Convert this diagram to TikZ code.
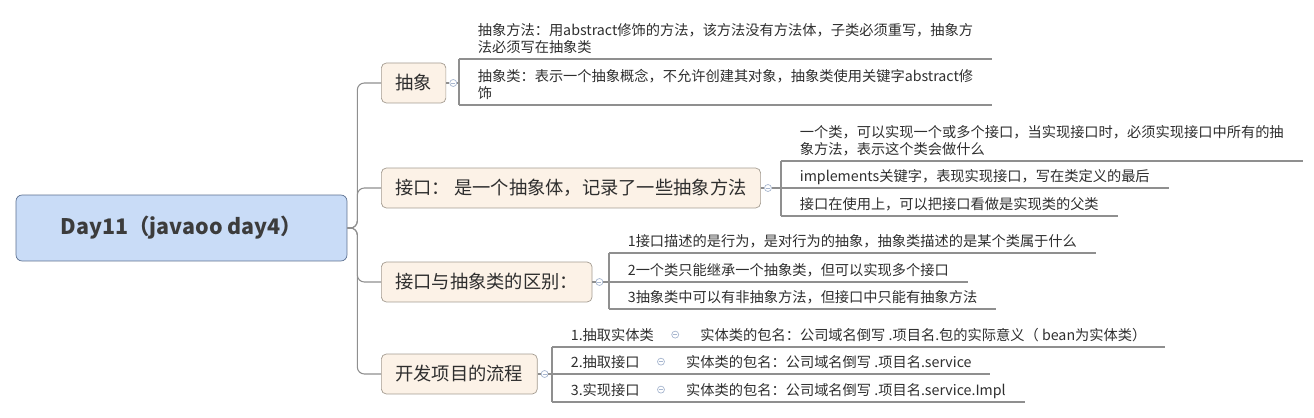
\documentclass[tikz,border=0pt]{standalone}
\usepackage{fontspec}
\setmainfont{Noto Sans CJK SC}
\definecolor{rootfill}{HTML}{C9DCF7}
\definecolor{rootline}{HTML}{5B6F8F}
\definecolor{roottext}{HTML}{3C3C3C}
\definecolor{branchfill}{HTML}{FCF2E7}
\definecolor{branchline}{HTML}{A39B90}
\definecolor{linec}{HTML}{8F8F8F}
\definecolor{foldline}{HTML}{A7B6CF}
\definecolor{txt}{HTML}{2E2E2E}
\tikzset{
	root/.style = {draw=rootline, fill=rootfill, rounded corners=0.12cm, minimum width=6.62cm,
		minimum height=1.32cm, text=roottext, font=\fontsize{12.2}{15}\selectfont\bfseries},
	branch/.style = {draw=branchline, fill=branchfill, rounded corners=0.1cm, anchor=west,
		minimum height=0.8cm, inner xsep=0.28cm, text=txt, font=\fontsize{10.4}{12}\selectfont},
	leaf/.style = {anchor=south west, inner xsep=0.37cm, inner ysep=0.12cm, text depth=0pt,
		align=left, text=txt, font=\fontsize{8.1}{9.7}\selectfont},
	fold/.style = {circle, draw=foldline, fill=white, minimum size=0.14cm, inner sep=0pt,
		path picture={\draw[foldline] ([xshift=-0.04cm]path picture bounding box.center)
			-- ([xshift=0.04cm]path picture bounding box.center);}},
	conn/.style = {draw=linec, line width=0.6pt, rounded corners=0.14cm},
	uline/.style = {draw=linec, line width=0.6pt}
}
\begin{document}
\begin{tikzpicture}[x=0.02cm, y=-0.02cm]
	\useasboundingbox (0,0) rectangle (1314,418);
	% centre topic and main branches
	\node[root] (day) at (181.5,228) {Day11（javaoo day4）};
	\node[branch] (abs) at (381,83) {抽象};
	\node[branch] (itf) at (381,188) {接口： 是一个抽象体，记录了一些抽象方法};
	\node[branch] (diff) at (381,282) {接口与抽象类的区别：};
	\node[branch] (flow) at (381,374) {开发项目的流程};
	\foreach \b in {abs, itf, diff, flow}
		\draw[conn] (day.east) -- ++(10,0) |- (\b.west);
	% fold marks after each branch
	\foreach \b in {abs, itf, diff, flow} {
		\node[fold] (f\b) at ([xshift=0.14cm]\b.east) {};
		\draw[uline] (\b.east) -- (f\b.west);
	}
	% abstract
	\node[leaf] (a1) at (459,59) {抽象方法：用abstract修饰的方法，该方法没有方法体，子类必须重写，抽象方\\法必须写在抽象类};
	\node[leaf] (a2) at (459,105) {抽象类：表示一个抽象概念，不允许创建其对象，抽象类使用关键字abstract修\\饰};
	\draw[uline] (fabs.east) -- (fabs.east -| a1.south west) (a1.south west) -- (a2.south west);
	% interface
	\node[leaf] (b1) at (781,161) {一个类，可以实现一个或多个接口，当实现接口时，必须实现接口中所有的抽\\象方法，表示这个类会做什么};
	\node[leaf] (b2) at (781,188) {implements关键字，表现实现接口，写在类定义的最后};
	\node[leaf] (b3) at (781,216) {接口在使用上，可以把接口看做是实现类的父类};
	\draw[uline] (fitf.east) -- (fitf.east -| b1.south west) (b1.south west) -- (b3.south west);
	% interface vs abstract class
	\node[leaf] (c1) at (609,253) {1接口描述的是行为，是对行为的抽象，抽象类描述的是某个类属于什么};
	\node[leaf] (c2) at (609,282) {2一个类只能继承一个抽象类，但可以实现多个接口};
	\node[leaf] (c3) at (609,309) {3抽象类中可以有非抽象方法，但接口中只能有抽象方法};
	\draw[uline] (fdiff.east) -- (fdiff.east -| c1.south west) (c1.south west) -- (c3.south west);
	\foreach \n in {a1, a2, b1, b2, b3, c1, c2, c3}
		\draw[uline] (\n.south west) -- (\n.south east);
	% project steps, each with its package name
	\node[leaf] (p1) at (552,347) {1.抽取实体类};
	\node[leaf] (p2) at (552,374) {2.抽取接口};
	\node[leaf] (p3) at (552,402) {3.实现接口};
	\foreach \n in {1,2,3}
		\node[fold] (g\n) at ([xshift=0.05cm]p\n.east) {};
	\node[leaf, xshift=0.05cm] (q1) at (g1.east |- p1.south) {实体类的包名：公司域名倒写 .项目名.包的实际意义（ bean为实体类）};
	\node[leaf, xshift=0.05cm] (q2) at (g2.east |- p2.south) {实体类的包名：公司域名倒写 .项目名.service};
	\node[leaf, xshift=0.05cm] (q3) at (g3.east |- p3.south) {实体类的包名：公司域名倒写 .项目名.service.Impl};
	\foreach \n in {1,2,3}
		\draw[uline] (p\n.south west) -- (q\n.south east);
	\draw[uline] (fflow.east) -- (fflow.east -| p1.south west) (p1.south west) -- (p3.south west);
\end{tikzpicture}
\end{document}
